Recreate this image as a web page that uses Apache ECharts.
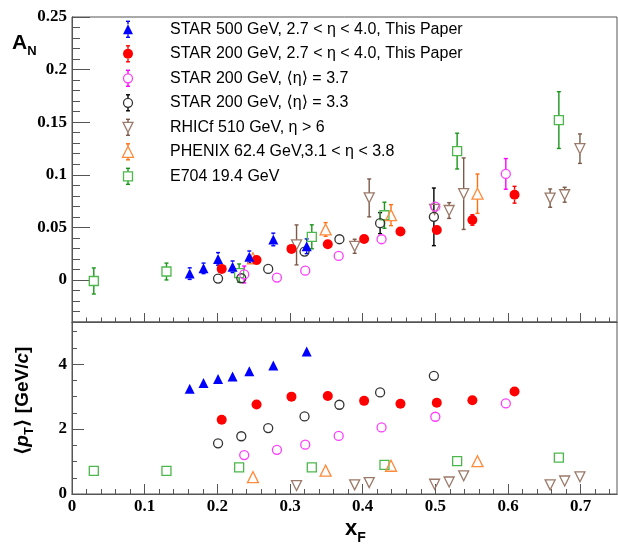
<!DOCTYPE html>
<html><head><meta charset="utf-8">
<script src="https://cdn.jsdelivr.net/npm/echarts@6/dist/echarts.min.js"></script>
<style>html,body{margin:0;padding:0;background:#fff}#c{width:618px;height:544px}</style>
</head><body><div id="c"></div>
<script>
// ---------------- data ----------------
const star500_xF  = [0.162, 0.181, 0.201, 0.221, 0.244, 0.277, 0.323];
const star500_AN  = [0.006, 0.011, 0.020, 0.0125, 0.022, 0.0385, 0.032];
const star500_err = [0.0055, 0.005, 0.006, 0.0055, 0.0055, 0.006, 0.007];
const star500_pT  = [3.24, 3.42, 3.54, 3.62, 3.78, 3.96, 4.39];

const star200_xF  = [0.206, 0.254, 0.302, 0.352, 0.402, 0.452, 0.502, 0.551, 0.609];
const star200_AN  = [0.0105, 0.019, 0.0295, 0.034, 0.039, 0.046, 0.0475, 0.057, 0.081];
const star200_err = [0.003, 0.003, 0.003, 0.003, 0.003, 0.003, 0.003, 0.005, 0.008];
const star200_pT  = [2.29, 2.76, 3.00, 3.02, 2.87, 2.78, 2.81, 2.89, 3.16];

const eta37_xF  = [0.237, 0.282, 0.321, 0.367, 0.426, 0.500, 0.597];
const eta37_AN  = [0.0052, 0.0022, 0.0088, 0.0228, 0.0387, 0.0697, 0.1008];
const eta37_err = [0.008, 0.002, 0.002, 0.002, 0.002, 0.004, 0.0146];
const eta37_pT  = [1.20, 1.36, 1.52, 1.79, 2.05, 2.38, 2.79];

const eta33_xF  = [0.201, 0.233, 0.270, 0.320, 0.368, 0.424, 0.498];
const eta33_AN  = [0.0013, 0.0016, 0.0105, 0.027, 0.0387, 0.054, 0.060];
const eta33_err = [0.002, 0.002, 0.002, 0.003, 0.004, 0.010, 0.0274];
const eta33_pT  = [1.56, 1.78, 2.03, 2.39, 2.75, 3.13, 3.64];

const rhicf_xF  = [0.309, 0.389, 0.409, 0.499, 0.519, 0.539, 0.658, 0.678, 0.699];
const rhicf_AN  = [0.0333, 0.032, 0.078, 0.067, 0.066, 0.082, 0.0778, 0.081, 0.1248];
const rhicf_err = [0.019, 0.0067, 0.018, 0.004, 0.0075, 0.034, 0.0087, 0.0071, 0.014];
const rhicf_pT  = [0.26, 0.28, 0.35, 0.30, 0.37, 0.56, 0.28, 0.40, 0.53];

const phenix_xF  = [0.249, 0.349, 0.439, 0.558];
const phenix_AN  = [0.0206, 0.048, 0.0616, 0.082];
const phenix_err = [0.004, 0.0065, 0.010, 0.0187];
const phenix_pT  = [0.52, 0.72, 0.87, 1.01];

const e704_xF  = [0.030, 0.130, 0.230, 0.330, 0.430, 0.530, 0.670];
const e704_AN  = [-0.001, 0.008, 0.0065, 0.041, 0.0615, 0.1225, 0.152];
const e704_err = [0.0124, 0.008, 0.0087, 0.0114, 0.0124, 0.017, 0.027];
const e704_pT  = [0.71, 0.71, 0.82, 0.82, 0.90, 1.01, 1.12];

// tick values
const xMajorTicks = [0, 0.1, 0.2, 0.3, 0.4, 0.5, 0.6, 0.7];
const xMinorTicks = [0.02,0.04,0.06,0.08,0.12,0.14,0.16,0.18,0.22,0.24,0.26,0.28,0.32,0.34,0.36,0.38,0.42,0.44,0.46,0.48,0.52,0.54,0.56,0.58,0.62,0.64,0.66,0.68,0.72,0.74];
const anMajorTicks = [0, 0.05, 0.1, 0.15, 0.2, 0.25];
const anMinorTicks = [-0.04,-0.03,-0.02,-0.01,0.01,0.02,0.03,0.04,0.06,0.07,0.08,0.09,0.11,0.12,0.13,0.14,0.16,0.17,0.18,0.19,0.21,0.22,0.23,0.24];
const ptMajorTicks = [0, 2, 4];
const ptMinorTicks = [0.5, 1, 1.5, 2.5, 3, 3.5, 4.5, 5];

const legendNames = [
  'STAR 500 GeV, 2.7 < \u03b7 < 4.0, This Paper',
  'STAR 200 GeV, 2.7 < \u03b7 < 4.0, This Paper',
  'STAR 200 GeV, \u27e8\u03b7\u27e9 = 3.7',
  'STAR 200 GeV, \u27e8\u03b7\u27e9 = 3.3',
  'RHICf 510 GeV, \u03b7 > 6',
  'PHENIX 62.4 GeV,3.1 < \u03b7 < 3.8',
  'E704 19.4 GeV'
];

// ---------------- styles ----------------
const sets = [
  {key:'e704',   xF:e704_xF,   AN:e704_AN,   err:e704_err,   pT:e704_pT,   sym:'rect',     size:9,  fill:'rgba(0,0,0,0)', stroke:'#4cb84c', bar:'#1a961a', rot:0,   li:6},
  {key:'phenix', xF:phenix_xF, AN:phenix_AN, err:phenix_err, pT:phenix_pT, sym:'triangle', size:11, fill:'rgba(0,0,0,0)', stroke:'#ff8a3a', bar:'#ff7010', rot:0,   li:5},
  {key:'rhicf',  xF:rhicf_xF,  AN:rhicf_AN,  err:rhicf_err,  pT:rhicf_pT,  sym:'triangle', size:10, fill:'rgba(0,0,0,0)', stroke:'#9c7a6a', bar:'#7c5a4a', rot:180, li:4},
  {key:'eta33',  xF:eta33_xF,  AN:eta33_AN,  err:eta33_err,  pT:eta33_pT,  sym:'circle',   size:9,  fill:'rgba(0,0,0,0)', stroke:'#333333', bar:'#000000', rot:0,   li:3},
  {key:'eta37',  xF:eta37_xF,  AN:eta37_AN,  err:eta37_err,  pT:eta37_pT,  sym:'circle',   size:9,  fill:'rgba(0,0,0,0)', stroke:'#ff3cff', bar:'#ff00ff', rot:0,   li:2},
  {key:'star200',xF:star200_xF,AN:star200_AN,err:star200_err,pT:star200_pT,sym:'circle',   size:10, fill:'#ff0000',       stroke:'#ff0000', bar:'#ff0000', rot:0,   li:1},
  {key:'star500',xF:star500_xF,AN:star500_AN,err:star500_err,pT:star500_pT,sym:'triangle', size:10, fill:'#0000ff',       stroke:'#0000ff', bar:'#0000ff', rot:0,   li:0}
];

function errRender(color, gap) {
  return function (params, api) {
    const x = api.value(0), y = api.value(1), e = api.value(2);
    const c = api.coord([x, y]);
    const t = api.coord([x, y + e]);
    const b = api.coord([x, y - e]);
    const st = {stroke: color, lineWidth: 1.4};
    const ch = [];
    const cap = 2;
    if (c[1] - t[1] > gap) {
      ch.push({type:'line', shape:{x1:c[0], y1:c[1]-gap, x2:c[0], y2:t[1]}, style:st});
      ch.push({type:'line', shape:{x1:c[0]-cap, y1:t[1], x2:c[0]+cap, y2:t[1]}, style:st});
    }
    if (b[1] - c[1] > gap) {
      ch.push({type:'line', shape:{x1:c[0], y1:c[1]+gap, x2:c[0], y2:b[1]}, style:st});
      ch.push({type:'line', shape:{x1:c[0]-cap, y1:b[1], x2:c[0]+cap, y2:b[1]}, style:st});
    }
    return {type:'group', children: ch};
  };
}

const series = [];
sets.forEach(s => {
  series.push({
    type:'custom', xAxisIndex:0, yAxisIndex:0, silent:true, clip:false,
    encode:{x:0, y:1},
    data: s.xF.map((x,i) => [x, s.AN[i], s.err[i]]),
    renderItem: errRender(s.bar, s.size/2)
  });
  series.push({
    type:'scatter', xAxisIndex:0, yAxisIndex:0, silent:true,
    symbol:s.sym, symbolSize:s.size, symbolRotate:s.rot,
    itemStyle:{color:s.fill, borderColor:s.stroke, borderWidth: s.fill==='rgba(0,0,0,0)'?1.3:0, opacity:1},
    data: s.xF.map((x,i) => [x, s.AN[i]])
  });
  series.push({
    type:'scatter', xAxisIndex:2, yAxisIndex:2, silent:true,
    symbol:s.sym, symbolSize:s.size, symbolRotate:s.rot,
    itemStyle:{color:s.fill, borderColor:s.stroke, borderWidth: s.fill==='rgba(0,0,0,0)'?1.3:0, opacity:1},
    data: s.xF.map((x,i) => [x, s.pT[i]])
  });
});

const axisCol = '#555';
const labFont = {fontFamily:'Liberation Serif', fontWeight:'bold', fontSize:17, color:'#000'};
const fmt = v => String(Math.round(v*100)/100);

function xAx(grid, ticks, len, labels) {
  return {
    type:'value', gridIndex:grid, min:0, max:0.75, position:'bottom',
    axisLine:{show:true, onZero:false, lineStyle:{color:axisCol, width:1}},
    axisTick:{show:true, inside:true, length:len, customValues:ticks, lineStyle:{color:axisCol, width:1}},
    axisLabel: labels ? Object.assign({show:true, customValues:ticks, formatter:fmt, margin:4}, labFont) : {show:false},
    splitLine:{show:false}
  };
}
function yAx(grid, min, max, ticks, len, labels) {
  return {
    type:'value', gridIndex:grid, min:min, max:max, position:'left',
    axisLine:{show:true, onZero:false, lineStyle:{color:axisCol, width:1}},
    axisTick:{show:true, inside:true, length:len, customValues:ticks, lineStyle:{color:axisCol, width:1}},
    axisLabel: labels ? Object.assign({show:true, customValues:ticks, formatter:fmt, margin:5}, labFont) : {show:false},
    splitLine:{show:false}
  };
}

// ---- legend graphics ----
const graphic = [];
const legY0 = 29.3, legDy = 24.5, legMX = 128, legTX = 170;
sets.forEach(s => {
  const y = legY0 + s.li * legDy;
  const h = s.size/2;
  const bst = {stroke:s.bar, lineWidth:1.4};
  graphic.push({type:'line', shape:{x1:legMX, y1:y-8, x2:legMX, y2:y-h}, style:bst, silent:true});
  graphic.push({type:'line', shape:{x1:legMX, y1:y+h, x2:legMX, y2:y+8}, style:bst, silent:true});
  graphic.push({type:'line', shape:{x1:legMX-2, y1:y-8, x2:legMX+2, y2:y-8}, style:bst, silent:true});
  graphic.push({type:'line', shape:{x1:legMX-2, y1:y+8, x2:legMX+2, y2:y+8}, style:bst, silent:true});
  const mst = {fill:s.fill, stroke:s.stroke, lineWidth: s.fill==='rgba(0,0,0,0)'?1.3:0};
  if (s.sym === 'circle') graphic.push({type:'circle', shape:{cx:legMX, cy:y, r:h}, style:mst, silent:true});
  else if (s.sym === 'rect') graphic.push({type:'rect', shape:{x:legMX-h, y:y-h, width:s.size, height:s.size}, style:mst, silent:true});
  else if (s.rot === 180) graphic.push({type:'polygon', shape:{points:[[legMX-h,y-h],[legMX+h,y-h],[legMX,y+h]]}, style:mst, silent:true});
  else graphic.push({type:'polygon', shape:{points:[[legMX-h,y+h],[legMX+h,y+h],[legMX,y-h]]}, style:mst, silent:true});
  graphic.push({type:'text', x:legTX, y:y, silent:true,
    style:{text:legendNames[s.li], font:'16px "Liberation Sans", "DejaVu Sans", sans-serif', fill:'#000', textVerticalAlign:'middle'}});
});

// measure helper
const mctx = document.createElement('canvas').getContext('2d');
function mw(t, f){ mctx.font = f; return mctx.measureText(t).width; }

// A_N title
graphic.push({type:'text', x:12, y:43, silent:true, style:{text:'A', font:'bold 21px "Liberation Sans", sans-serif', fill:'#000', textVerticalAlign:'middle'}});
graphic.push({type:'text', x:12+mw('A','bold 21px "Liberation Sans"'), y:51, silent:true, style:{text:'N', font:'bold 13px "Liberation Sans", sans-serif', fill:'#000', textVerticalAlign:'middle'}});

// x_F title
graphic.push({type:'text', x:345, y:529, silent:true, style:{text:'x', font:'bold 22px "Liberation Sans", sans-serif', fill:'#000', textVerticalAlign:'middle'}});
graphic.push({type:'text', x:345+mw('x','bold 22px "Liberation Sans"'), y:538, silent:true, style:{text:'F', font:'bold 14px "Liberation Sans", sans-serif', fill:'#000', textVerticalAlign:'middle'}});

// <p_T> [GeV/c] rotated title
(function(){
  const big = 'bold 19px "Liberation Sans", "DejaVu Sans", sans-serif';
  const bigI = 'italic bold 19px "Liberation Sans", "DejaVu Sans", sans-serif';
  const sub = 'bold 13px "Liberation Sans", sans-serif';
  const pieces = [
    {t:'\u27e8', f:big, dy:0}, {t:'p', f:bigI, dy:0}, {t:'T', f:sub, dy:6},
    {t:'\u27e9 [GeV/', f:big, dy:0}, {t:'c', f:bigI, dy:0}, {t:']', f:big, dy:0}
  ];
  let total = 0; pieces.forEach(p => { p.w = mw(p.t, p.f); total += p.w; });
  let cx = -total/2;
  const children = pieces.map(p => { const el = {type:'text', x:cx, y:p.dy, style:{text:p.t, font:p.f, fill:'#000', textVerticalAlign:'middle'}}; cx += p.w; return el; });
  graphic.push({type:'group', x:23, y:401, rotation:Math.PI/2, silent:true, children});
})();

const chart = echarts.init(document.getElementById('c'), null, {renderer:'canvas'});
chart.setOption({
  animation:false,
  backgroundColor:'#fff',
  grid:[
    {left:72, width:545, top:17, height:305, show:true, borderColor:axisCol, borderWidth:1, backgroundColor:'rgba(0,0,0,0)'},
    {left:72, width:545, top:322, height:172, show:true, borderColor:axisCol, borderWidth:1, backgroundColor:'rgba(0,0,0,0)'}
  ],
  xAxis:[
    xAx(0, xMajorTicks, 9, false),
    xAx(0, xMinorTicks, 4.5, false),
    xAx(1, xMajorTicks, 10, true),
    xAx(1, xMinorTicks, 5, false)
  ],
  yAxis:[
    yAx(0, -0.04, 0.25, anMajorTicks, 18, true),
    yAx(0, -0.04, 0.25, anMinorTicks, 8, false),
    yAx(1, 0, 5.3, ptMajorTicks, 12, true),
    yAx(1, 0, 5.3, ptMinorTicks, 5, false)
  ],
  series: series,
  graphic: graphic
});
</script></body></html>
